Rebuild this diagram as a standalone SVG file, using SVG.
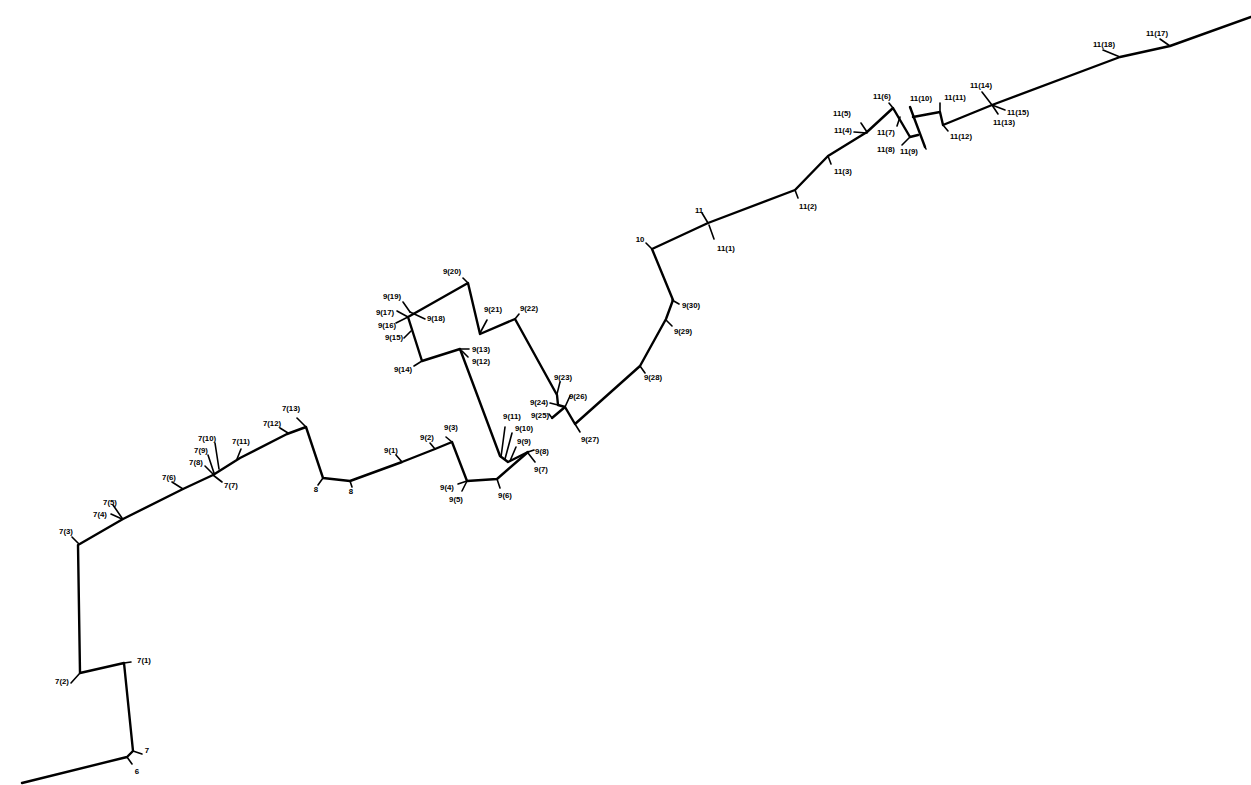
<svg xmlns="http://www.w3.org/2000/svg" width="1251" height="785" viewBox="0 0 1251 785">
<style>
.c{fill:none;stroke:#000;stroke-width:2.4;stroke-linecap:round;stroke-linejoin:round}
.t{fill:none;stroke:#000;stroke-width:1.6;stroke-linecap:round}
text{font-family:"Liberation Sans",Arial,sans-serif;font-size:7.8px;font-weight:bold;fill:#000;text-anchor:middle}
</style>
<rect width="1251" height="785" fill="#fff"/>
<g id="connectors">
<path class="c" d="M22,783 L127,757 L133,751 L124,663 L80,673 L78,545 L123,519 L183,489 L213,475 L240,458 L287,434 L306,427 L323,478 L350,481 L402,462 L435,449 L452,442 L467,481 L497,479 L528,452"/>
<path class="c" d="M528,452 L508,462 L500,456 L460,349 L422,361 L408,317 L468,283 L480,334 L515,319 L557,395 L558,405 L565,407 L575,424 L640,366 L666,319 L673,300 L652,249 L708,223 L795,190 L828,156 L867,132 L893,108 L910,137 L918,135"/>
<path class="c" d="M910,107 L925,147"/>
<path class="c" d="M913,117 L940,112 L943,125 L992,105 L1120,57 L1170,46 L1251,17"/>
<path class="c" d="M552,418 L565,407"/>
</g>
<g id="n6"><line class="t" x1="127" y1="757" x2="132" y2="764"/><text x="137" y="774">6</text></g>
<g id="n7"><line class="t" x1="133" y1="751" x2="142" y2="754"/><text x="147" y="753">7</text></g>
<g id="n7_1"><line class="t" x1="124" y1="663" x2="131" y2="662"/><text x="144" y="663">7(1)</text></g>
<g id="n7_2"><line class="t" x1="80" y1="673" x2="71" y2="683"/><text x="62" y="684">7(2)</text></g>
<g id="n7_3"><line class="t" x1="72" y1="537" x2="79" y2="544"/><text x="66" y="534">7(3)</text></g>
<g id="n7_4"><line class="t" x1="111" y1="514" x2="122" y2="519"/><text x="100" y="517">7(4)</text></g>
<g id="n7_5"><line class="t" x1="113" y1="505" x2="122" y2="518"/><text x="110" y="505">7(5)</text></g>
<g id="n7_6"><line class="t" x1="172" y1="482" x2="183" y2="489"/><text x="169" y="480">7(6)</text></g>
<g id="n7_8"><line class="t" x1="205" y1="466" x2="213" y2="474"/><text x="196" y="465">7(8)</text></g>
<g id="n7_9"><line class="t" x1="208" y1="455" x2="214" y2="473"/><text x="201" y="453">7(9)</text></g>
<g id="n7_10"><line class="t" x1="215" y1="443" x2="219" y2="469"/><text x="207" y="441">7(10)</text></g>
<g id="n7_7"><line class="t" x1="213" y1="475" x2="222" y2="482"/><text x="231" y="488">7(7)</text></g>
<g id="n7_11"><line class="t" x1="241" y1="449" x2="237" y2="459"/><text x="241" y="444">7(11)</text></g>
<g id="n7_12"><line class="t" x1="280" y1="428" x2="288" y2="433"/><text x="272" y="426">7(12)</text></g>
<g id="n7_13"><line class="t" x1="297" y1="418" x2="306" y2="427"/><text x="291" y="411">7(13)</text></g>
<g id="n8a"><line class="t" x1="323" y1="478" x2="318" y2="485"/><text x="316" y="492">8</text></g>
<g id="n8b"><line class="t" x1="350" y1="481" x2="352" y2="487"/><text x="351" y="494">8</text></g>
<g id="n9_1"><line class="t" x1="396" y1="455" x2="402" y2="462"/><text x="391" y="453">9(1)</text></g>
<g id="n9_2"><line class="t" x1="430" y1="443" x2="435" y2="449"/><text x="427" y="440">9(2)</text></g>
<g id="n9_3"><line class="t" x1="446" y1="437" x2="452" y2="442"/><text x="451" y="430">9(3)</text></g>
<g id="n9_4"><line class="t" x1="458" y1="484" x2="467" y2="481"/><text x="447" y="490">9(4)</text></g>
<g id="n9_5"><line class="t" x1="467" y1="481" x2="462" y2="491"/><text x="456" y="502">9(5)</text></g>
<g id="n9_6"><line class="t" x1="497" y1="479" x2="500" y2="488"/><text x="505" y="498">9(6)</text></g>
<g id="n9_7"><line class="t" x1="528" y1="453" x2="535" y2="462"/><text x="541" y="472">9(7)</text></g>
<g id="n9_8"><line class="t" x1="528" y1="452" x2="534" y2="450"/><text x="542" y="454">9(8)</text></g>
<g id="n9_9"><line class="t" x1="510" y1="461" x2="516" y2="447"/><text x="524" y="444">9(9)</text></g>
<g id="n9_10"><line class="t" x1="505" y1="459" x2="512" y2="433"/><text x="524" y="431">9(10)</text></g>
<g id="n9_11"><line class="t" x1="501" y1="457" x2="505" y2="427"/><text x="512" y="419">9(11)</text></g>
<g id="n9_12"><line class="t" x1="462" y1="351" x2="468" y2="357"/><text x="481" y="364">9(12)</text></g>
<g id="n9_13"><line class="t" x1="460" y1="349" x2="469" y2="349"/><text x="481" y="352">9(13)</text></g>
<g id="n9_14"><line class="t" x1="414" y1="366" x2="422" y2="361"/><text x="403" y="372">9(14)</text></g>
<g id="n9_15"><line class="t" x1="404" y1="338" x2="411" y2="331"/><text x="394" y="340">9(15)</text></g>
<g id="n9_16"><line class="t" x1="396" y1="323" x2="408" y2="317"/><text x="387" y="328">9(16)</text></g>
<g id="n9_17"><line class="t" x1="397" y1="311" x2="408" y2="317"/><text x="385" y="315">9(17)</text></g>
<g id="n9_19"><line class="t" x1="403" y1="302" x2="410" y2="312"/><text x="392" y="299">9(19)</text></g>
<g id="n9_18"><line class="t" x1="410" y1="312" x2="425" y2="319"/><text x="436" y="321">9(18)</text></g>
<g id="n9_20"><line class="t" x1="463" y1="278" x2="468" y2="283"/><text x="452" y="274">9(20)</text></g>
<g id="n9_21"><line class="t" x1="487" y1="320" x2="480" y2="333"/><text x="493" y="312">9(21)</text></g>
<g id="n9_22"><line class="t" x1="515" y1="319" x2="519" y2="314"/><text x="529" y="311">9(22)</text></g>
<g id="n9_23"><line class="t" x1="560" y1="382" x2="557" y2="394"/><text x="563" y="380">9(23)</text></g>
<g id="n9_24"><line class="t" x1="550" y1="403" x2="558" y2="405"/><text x="539" y="405">9(24)</text></g>
<g id="n9_25"><line class="t" x1="549" y1="414" x2="552" y2="418"/><text x="540" y="418">9(25)</text></g>
<g id="n9_26"><line class="t" x1="570" y1="396" x2="565" y2="407"/><text x="578" y="399">9(26)</text></g>
<g id="n9_27"><line class="t" x1="575" y1="424" x2="580" y2="432"/><text x="590" y="442">9(27)</text></g>
<g id="n9_28"><line class="t" x1="640" y1="366" x2="645" y2="373"/><text x="653" y="380">9(28)</text></g>
<g id="n9_29"><line class="t" x1="666" y1="320" x2="672" y2="326"/><text x="683" y="334">9(29)</text></g>
<g id="n9_30"><line class="t" x1="672" y1="300" x2="679" y2="304"/><text x="691" y="308">9(30)</text></g>
<g id="n10"><line class="t" x1="646" y1="243" x2="652" y2="249"/><text x="640" y="242">10</text></g>
<g id="n11"><line class="t" x1="702" y1="213" x2="708" y2="223"/><text x="699" y="213">11</text></g>
<g id="n11_1"><line class="t" x1="709" y1="225" x2="714" y2="239"/><text x="726" y="251">11(1)</text></g>
<g id="n11_2"><line class="t" x1="795" y1="190" x2="798" y2="198"/><text x="808" y="209">11(2)</text></g>
<g id="n11_3"><line class="t" x1="828" y1="156" x2="831" y2="164"/><text x="843" y="174">11(3)</text></g>
<g id="n11_4"><line class="t" x1="854" y1="132" x2="867" y2="133"/><text x="843" y="133">11(4)</text></g>
<g id="n11_5"><line class="t" x1="861" y1="123" x2="867" y2="132"/><text x="842" y="116">11(5)</text></g>
<g id="n11_6"><line class="t" x1="889" y1="103" x2="893" y2="108"/><text x="882" y="99">11(6)</text></g>
<g id="n11_7"><line class="t" x1="897" y1="126" x2="900" y2="117"/><text x="886" y="135">11(7)</text></g>
<g id="n11_8"><line class="t" x1="902" y1="145" x2="910" y2="137"/><text x="886" y="152">11(8)</text></g>
<g id="n11_9"><line class="t" x1="925" y1="147" x2="926" y2="149"/><text x="909" y="154">11(9)</text></g>
<g id="n11_10"><line class="t" x1="910" y1="107" x2="911" y2="109"/><text x="921" y="101">11(10)</text></g>
<g id="n11_11"><line class="t" x1="940" y1="103" x2="940" y2="112"/><text x="955" y="100">11(11)</text></g>
<g id="n11_12"><line class="t" x1="943" y1="125" x2="948" y2="131"/><text x="961" y="139">11(12)</text></g>
<g id="n11_13"><line class="t" x1="992" y1="105" x2="998" y2="114"/><text x="1004" y="125">11(13)</text></g>
<g id="n11_14"><line class="t" x1="982" y1="92" x2="992" y2="105"/><text x="981" y="88">11(14)</text></g>
<g id="n11_15"><line class="t" x1="992" y1="105" x2="1005" y2="110"/><text x="1018" y="115">11(15)</text></g>
<g id="n11_17"><line class="t" x1="1160" y1="39" x2="1170" y2="46"/><text x="1157" y="36">11(17)</text></g>
<g id="n11_18"><line class="t" x1="1103" y1="50" x2="1120" y2="57"/><text x="1104" y="47">11(18)</text></g>
</svg>
